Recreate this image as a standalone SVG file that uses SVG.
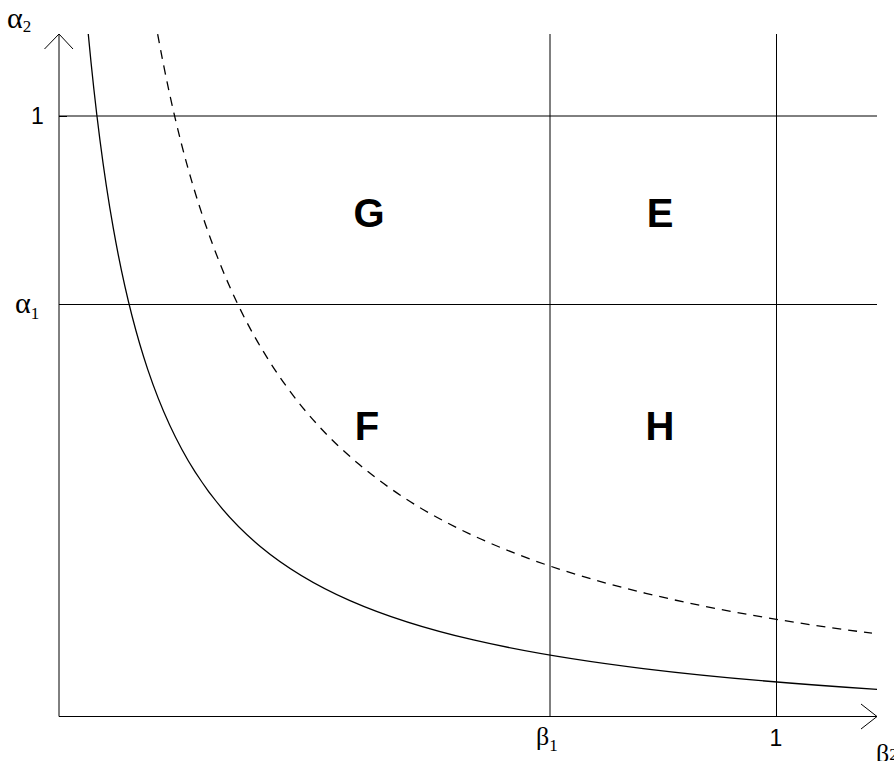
<svg xmlns="http://www.w3.org/2000/svg" width="894" height="761" viewBox="0 0 894 761">
<style>
.ln{stroke:#000;stroke-width:1;fill:none}
.cv{stroke:#000;stroke-width:1.3;fill:none}
.dash{stroke-dasharray:9 7}
.big{font-family:"Liberation Sans",Arial,sans-serif;font-weight:bold;font-size:40px;text-anchor:middle;fill:#000}
.num{font-family:"Liberation Sans",Arial,sans-serif;font-size:23px;text-anchor:middle;fill:#000}
.gr{font-family:"Liberation Serif","Times New Roman",serif;font-size:26px;fill:#000}
.al{font-size:30px}
.sub{font-size:17px}
</style>
<rect width="894" height="761" fill="#fff"/>
<g id="grid">
<line class="ln" x1="59" y1="116" x2="877" y2="116"/>
<line class="ln" x1="59" y1="304.5" x2="877" y2="304.5"/>
<line class="ln" x1="550" y1="34" x2="550" y2="716"/>
<line class="ln" x1="776.5" y1="34" x2="776.5" y2="716"/>
<line class="ln" x1="59" y1="116.5" x2="67" y2="116.5"/>
</g>
<g id="axes">
<line class="ln" x1="59" y1="34" x2="59" y2="716.5"/>
<polyline class="ln" points="44.5,49 59,34 73,49"/>
<line class="ln" x1="59" y1="716.5" x2="877" y2="716.5"/>
<polyline class="ln" points="861,704 877,716.5 861,729"/>
</g>
<g id="curves">
<path class="cv" d="M88.27,33.98 C96.61,123.09 104.95,181.18 113.29,228.23 C124.76,292.96 136.24,335.17 147.71,369.35 C163.5,416.4 179.29,447.07 195.08,471.91 C216.81,506.1 238.54,528.39 260.27,546.44 C290.17,571.28 320.07,587.48 349.97,600.6 C391.12,618.65 432.26,630.42 473.41,639.95 C530.03,653.07 586.66,661.63 643.28,668.56 C721.2,678.09 799.11,684.31 877.03,689.34"/>
<path class="cv dash" d="M157.65,34.02 C173.52,120.37 189.38,177.4 205.25,223.7 C226.92,286.93 248.58,328.7 270.25,362.6 C299.84,408.9 329.43,439.48 359.02,464.3 C399.43,498.2 439.85,520.59 480.26,538.77 C535.45,563.59 590.65,579.99 645.84,593.3 C721.22,611.48 796.59,623.47 871.97,633.22"/>
</g>
<g id="regions">
<text class="big" x="369" y="227">G</text>
<text class="big" x="660" y="227">E</text>
<text class="big" x="367" y="440">F</text>
<text class="big" x="660" y="440">H</text>
</g>
<g id="labels">
<text class="gr al" x="7" y="28">α<tspan class="sub" dy="4">2</tspan></text>
<text class="gr al" x="15" y="313">α<tspan class="sub" dy="6">1</tspan></text>
<text class="num" x="37.5" y="124">1</text>
<text class="gr" x="536" y="745">β<tspan class="sub" dy="6">1</tspan></text>
<text class="num" x="776" y="746">1</text>
<text class="gr" x="876" y="762">β<tspan class="sub" dy="-2">2</tspan></text>
</g>
</svg>
